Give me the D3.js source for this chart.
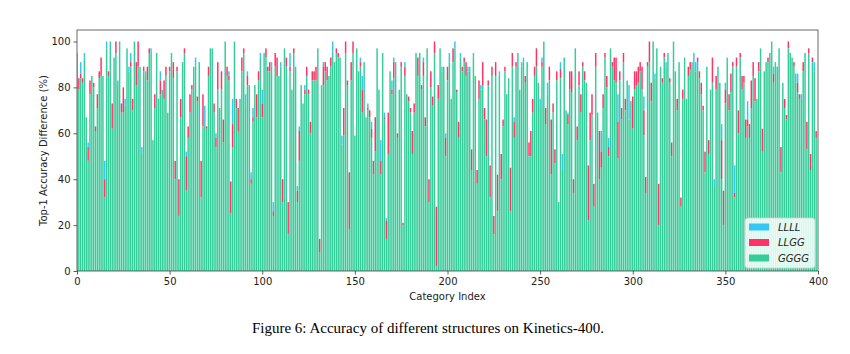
<!DOCTYPE html>
<meta charset="utf-8">
<script src="https://d3js.org/d3.v7.min.js"></script>
<style>
  body { margin: 0; background: #fff; }
  text { font-family: "DejaVu Sans", sans-serif; }
</style>
<div id="chart"></div>
<script>

// series names and colours (GGGG drawn in front, then LLGG, then LLLL)
var seriesNames = ["LLLL", "LLGG", "GGGG"];
var seriesColors = ["#36c6f4", "#ff3366", "#36cd9b"];

// top-1 accuracy per category (400 categories)
var llll = [
  88,74,91,77,95,60,56,71,78,75,55,66,79,80,79,48,100,80,92,57,87,90,83,93,64,63,75,90,89,95,64,92,76,84,83,54,
  81,87,77,89,97,51,65,89,69,87,73,69,79,63,81,89,78,34,81,18,61,85,89,52,52,63,73,83,93,68,85,26,57,72,56,79,91,
  91,63,60,73,65,73,50,93,79,87,19,75,92,65,55,69,81,89,77,87,75,43,71,75,61,77,95,79,89,87,81,81,91,30,83,79,79,
  91,24,91,83,10,95,73,89,83,37,63,75,67,81,79,71,54,77,77,77,91,4,75,91,81,77,79,83,100,85,89,87,87,59,53,89,75,
  12,77,89,53,91,81,93,85,85,61,73,61,65,36,46,91,73,57,89,69,23,45,81,83,93,85,52,73,83,14,91,71,68,63,45,63,89,
  79,89,73,93,57,91,24,74,66,89,1,69,91,89,83,60,77,95,69,85,100,72,52,95,81,85,79,89,89,38,95,79,32,69,81,75,60,
  44,75,26,79,10,79,20,87,34,57,81,71,78,20,83,67,83,89,73,91,93,76,85,44,44,63,79,83,76,75,93,93,58,82,77,36,63,
  41,77,24,91,51,87,64,69,73,72,28,91,51,75,63,83,77,76,16,51,62,22,83,63,34,61,65,87,74,58,91,83,77,76,77,77,
  60,85,64,77,81,68,56,73,75,76,81,73,76,28,83,85,68,93,86,91,14,83,76,87,91,89,76,44,93,81,64,85,22,69,87,69,79,
  82,85,95,91,85,78,71,64,37,83,45,73,76,40,73,83,76,64,14,82,93,64,72,83,46,83,54,87,73,76,52,74,52,65,79,68,69,
  81,91,46,81,85,85,89,93,89,85,83,91,37,76,65,60,91,89,87,83,86,86,69,77,81,89,47,89,38,85,91,52
];
var llgg = [
  90,84,86,84,89,62,54,83,80,82,63,77,87,93,81,40,93,87,96,73,88,100,78,94,73,80,68,92,84,91,75,95,91,100,85,47,
  89,81,89,97,91,53,77,91,71,83,75,83,89,65,89,91,91,48,89,40,75,87,97,50,63,77,81,85,85,76,87,48,77,60,63,89,93,
  93,73,58,91,67,87,66,96,89,85,39,64,95,75,71,71,93,97,67,85,77,40,67,77,77,87,89,73,91,97,89,91,85,26,95,93,81,
  85,40,93,93,30,89,75,97,85,35,61,77,69,79,89,79,65,87,87,89,93,14,77,89,91,89,81,93,91,87,97,95,89,51,71,100,83,
  43,91,100,55,93,83,91,79,87,63,71,70,62,48,67,93,75,48,91,67,22,69,83,79,91,87,60,75,91,21,89,73,76,71,61,73,91,
  93,91,81,91,67,93,40,87,76,100,28,81,93,83,85,58,89,87,71,97,93,79,65,89,89,93,91,83,83,53,89,81,44,83,75,91,71,
  66,83,46,89,24,91,42,81,51,66,89,73,80,45,95,65,91,91,75,85,87,85,87,56,61,75,89,97,78,67,91,95,71,73,89,66,73,
  53,87,26,88,40,89,66,68,87,87,40,93,63,87,77,91,87,78,46,69,77,38,95,65,61,52,77,95,85,54,93,91,93,93,65,87,
  71,95,75,79,62,70,76,87,87,89,91,89,70,41,91,100,82,95,80,93,38,85,84,95,85,91,84,56,95,83,75,87,32,79,89,71,89,
  91,87,84,83,93,87,82,72,52,85,57,75,93,33,85,85,78,57,35,79,87,77,86,91,34,93,70,95,85,85,66,66,64,83,91,84,71,
  91,93,62,83,87,93,91,95,86,87,85,93,54,78,75,68,100,91,89,91,78,82,77,71,91,91,65,97,51,93,83,61
];
var gggg = [
  95,79,84,82,93,67,48,77,85,80,61,71,84,85,85,32,97,85,100,62,93,95,81,100,69,69,72,97,87,89,70,100,81,89,89,51,
  87,85,83,95,95,57,71,95,75,77,79,75,85,69,87,95,84,40,87,24,67,91,95,35,58,69,79,89,89,74,91,32,63,64,62,85,97,
  97,69,54,79,71,79,56,100,85,83,25,54,100,71,61,75,87,95,71,81,81,38,65,81,67,83,93,67,95,93,87,87,89,24,89,85,85,
  89,30,97,89,16,87,79,95,89,30,48,81,73,77,85,77,60,83,83,83,97,8,81,81,87,83,85,89,95,91,95,93,93,55,59,95,81,
  18,83,95,59,97,87,89,69,91,67,70,67,58,42,52,97,79,42,95,66,14,51,87,77,84,91,58,79,89,20,85,77,74,69,51,69,95,
  85,95,79,85,63,97,30,80,72,95,2,75,97,87,89,50,83,91,75,91,97,78,58,93,87,91,85,87,87,44,93,85,38,75,79,81,66,
  50,81,32,85,16,85,26,85,40,63,87,77,84,26,89,58,89,95,79,89,91,82,91,50,50,69,85,89,82,71,89,100,64,77,83,42,69,
  47,83,30,84,44,93,70,64,79,78,34,97,57,81,69,89,83,82,22,57,68,28,89,69,40,45,71,93,80,50,97,89,83,82,49,83,
  66,91,70,83,66,74,62,79,81,82,87,79,59,34,89,91,74,100,84,97,20,89,82,93,89,95,82,50,100,87,70,91,28,75,93,75,85,
  88,91,88,87,91,84,77,70,43,89,51,79,82,37,79,89,82,40,20,73,91,70,78,89,32,89,60,93,79,82,58,63,58,71,85,74,75,
  87,97,52,87,91,91,95,100,82,91,89,97,43,82,71,66,97,95,93,89,82,78,75,75,87,95,53,95,44,91,87,58
];

var xTicks = [0, 50, 100, 150, 200, 250, 300, 350, 400];
var yTicks = [0, 20, 40, 60, 80, 100];

var margin = {top: 30, right: 32, bottom: 83, left: 77},
    width = 850 - margin.left - margin.right,
    height = 354 - margin.top - margin.bottom;

var svg = d3.select("#chart")
  .append("svg")
    .attr("width", 850)
    .attr("height", 354);

var g = svg.append("g")
    .attr("transform", "translate(" + margin.left + "," + margin.top + ")");

var x = d3.scaleLinear().domain([0, 400]).range([0, width]);
var y = d3.scaleLinear().domain([0, 105]).range([height, 0]);

g.append("clipPath").attr("id", "plotclip")
  .append("rect").attr("width", width).attr("height", height);

var bars = g.append("g").attr("clip-path", "url(#plotclip)");

// the bars overlap, so only the part of each series that sticks out
// above the ones in front of it is visible
var rows = gggg.map(function(gv, i) {
  return {i: i, L: llll[i], R: llgg[i], G: gv};
});
var segs = [
  function(d) { var lo = Math.max(d.R, d.G); return d.L > lo ? [lo, d.L] : null; },
  function(d) { return d.R > d.G ? [d.G, d.R] : null; },
  function(d) { return [0, d.G]; }
];

segs.forEach(function(seg, s) {
  var data = rows.map(function(d) { var r = seg(d); return r ? {i: d.i, lo: r[0], hi: r[1]} : null; })
                 .filter(function(d) { return d; });
  bars.append("g")
      .attr("fill", seriesColors[s])
    .selectAll("rect")
    .data(data)
    .enter()
    .append("rect")
      .attr("x", function(d) { return x(d.i - 0.4); })
      .attr("width", x(0.8) - x(0))
      .attr("y", function(d) { return y(d.hi); })
      .attr("height", function(d) { return y(d.lo) - y(d.hi); });
});

// axes
var xAxis = g.append("g")
    .attr("transform", "translate(0," + height + ")")
    .call(d3.axisBottom(x).tickValues(xTicks).tickSize(3.5).tickPadding(3));
var yAxis = g.append("g")
    .call(d3.axisLeft(y).tickValues(yTicks).tickSize(3.5).tickPadding(3));

[xAxis, yAxis].forEach(function(a) {
  a.select(".domain").remove();
  a.selectAll("line").attr("stroke", "#333").attr("stroke-width", 0.8);
  a.selectAll("text").attr("fill", "#222").style("font-size", "10px")
    .style("font-family", "DejaVu Sans");
});

// frame
g.append("rect")
    .attr("width", width)
    .attr("height", height)
    .attr("fill", "none")
    .attr("stroke", "#444")
    .attr("stroke-width", 0.8);

// axis labels
g.append("text")
    .attr("x", width / 2)
    .attr("y", height + 29)
    .attr("text-anchor", "middle")
    .attr("fill", "#222")
    .style("font-size", "10px")
    .text("Category Index");

g.append("text")
    .attr("transform", "translate(-30," + (height / 2) + ")rotate(-90)")
    .attr("text-anchor", "middle")
    .attr("fill", "#222")
    .style("font-size", "10px")
    .text("Top-1 Accuracy Difference (%)");

// legend
var legend = g.append("g").attr("transform", "translate(" + (width - 73) + "," + (height - 53) + ")");
legend.append("rect")
    .attr("width", 70).attr("height", 50).attr("rx", 3)
    .attr("fill", "#fff").attr("fill-opacity", 0.82)
    .attr("stroke", "#d0d0d0").attr("stroke-width", 0.8);

seriesNames.forEach(function(name, i) {
  var cy = 9 + i * 15.5;
  legend.append("rect")
      .attr("x", 4).attr("y", cy - 3.5)
      .attr("width", 20).attr("height", 7)
      .attr("fill", seriesColors[i]);
  legend.append("text")
      .attr("x", 33).attr("y", cy + 3.6)
      .attr("fill", "#222")
      .style("font-size", "10px")
      .style("font-style", "italic")
      .text(name);
});

// caption
svg.append("text")
    .attr("x", 428)
    .attr("y", 333)
    .attr("text-anchor", "middle")
    .attr("fill", "#000")
    .style("font-family", "'Liberation Serif', 'Times New Roman', serif")
    .style("font-size", "15px")
    .text("Figure 6: Accuracy of different structures on Kinetics-400.");

</script>
